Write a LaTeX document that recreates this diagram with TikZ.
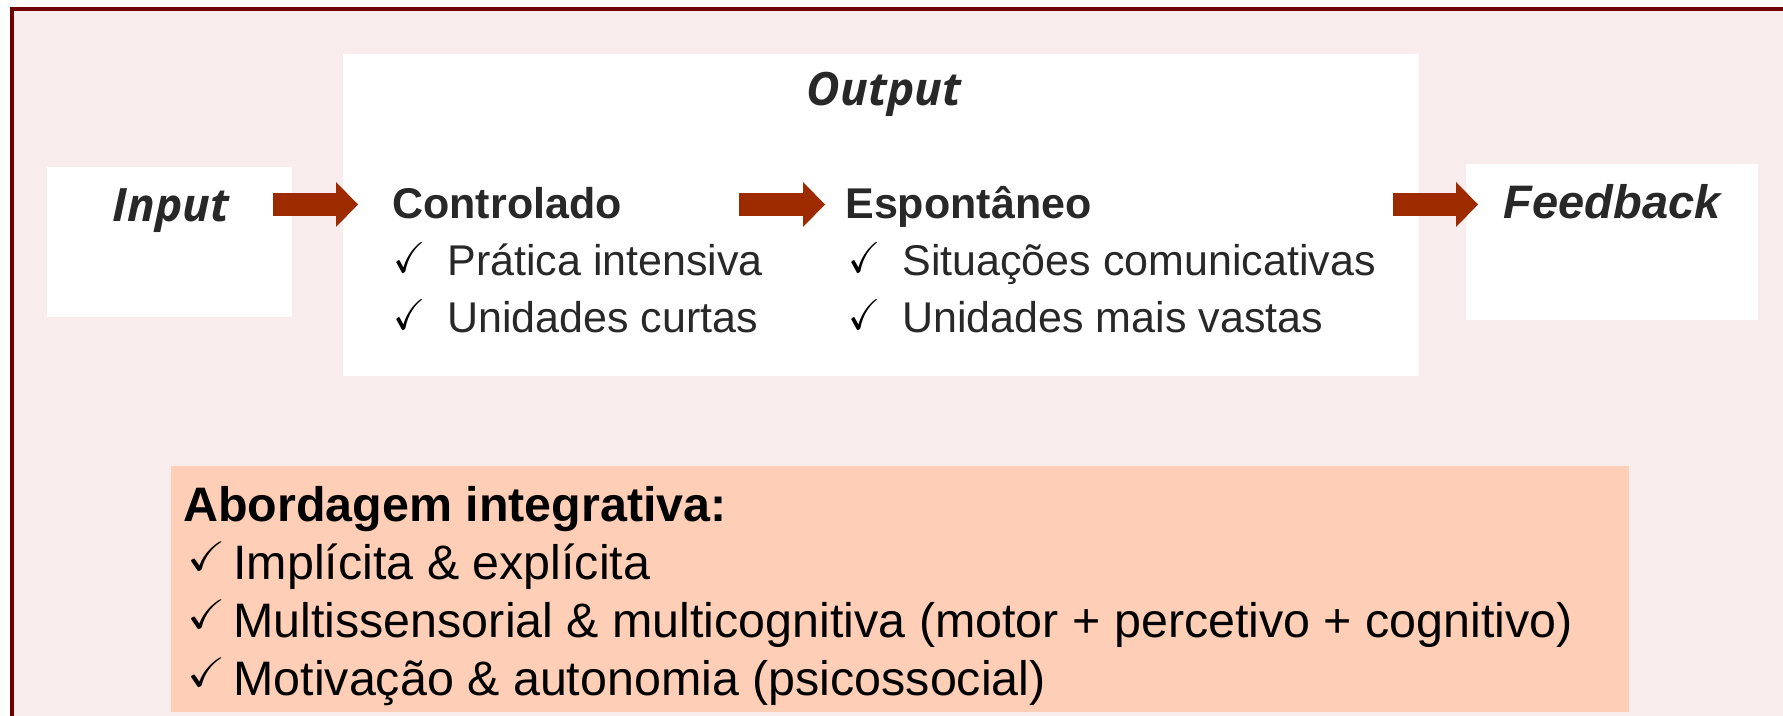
\documentclass[tikz,border=0pt]{standalone}
\usepackage{amssymb}
\usepackage{fontspec}
\setmainfont{Liberation Sans}
\newfontfamily\segoe{Open Sans}
\usetikzlibrary{arrows.meta,fit}
\definecolor{bgpink}{RGB}{248,237,236}
\definecolor{framered}{RGB}{110,0,0}
\definecolor{arrowred}{RGB}{158,42,0}
\definecolor{peach}{RGB}{255,206,182}
\definecolor{darktext}{RGB}{40,40,40}
\newcommand{\chk}{\makebox[27pt][l]{\raisebox{1.5pt}{\color{black}\scalebox{0.9}[1.0]{$\checkmark$}}}}
\newcommand{\chksmall}{\makebox[23pt][l]{\raisebox{4.5pt}{\scalebox{0.95}[0.85]{$\checkmark$}}}}
\tikzset{
whitebox/.style={fill=white,inner sep=0pt},
peachbox/.style={fill=peach,inner sep=0pt},
frame/.style={draw=framered,fill=bgpink,line width=2pt},
heading/.style={inner sep=0pt,text=darktext,font=\segoe\bfseries\itshape\fontsize{23}{23}\selectfont},
stage/.style={inner sep=0pt,text=darktext,font=\bfseries\fontsize{21.5}{26}\selectfont},
item/.style={inner sep=0pt,text=darktext,font=\fontsize{21.5}{26}\selectfont},
blockarrow/.style={arrowred,line width=11.5pt,-{Triangle[length=11pt,width=22.5pt,line width=0pt]}}
}
\begin{document}
\begin{tikzpicture}[x=0.5pt,y=-0.5pt]
\useasboundingbox (0,0) rectangle (1783,716);
\clip (0,0) rectangle (1783,716);
% the frame
\draw[frame] (11.5,9) rectangle (1800,740);
% the boxes
\node[whitebox,fit={(47,167) (292,317)}] (inbox) {};
\node[whitebox,fit={(343,54) (1419,376)}] (outbox) {};
\node[whitebox,fit={(1466,164) (1758,320)}] (fbbox) {};
\node[peachbox,fit={(171,466) (1629,712)}] (intbox) {};
% the texts
\node[heading,anchor=base] (input) at (171,222) {Input};
\node[heading,anchor=base] (output) at (884,106) {Output};
\node[heading,anchor=base,font=\bfseries\itshape\fontsize{23.5}{24}\selectfont] (feedback) at (1612,219) {Feedback};
\node[stage,anchor=base west] (ctrl) at (392,219) {Controlado};
\node[stage,anchor=base west] (esp) at (845,219) {Espontâneo};
\foreach \t [count=\i] in {Prática intensiva,Unidades curtas}
  \node[item,anchor=base west] (ctrl-\i) at (393,219+57*\i) {\chk\t};
\foreach \t [count=\i] in {Situações comunicativas,Unidades mais vastas}
  \node[item,anchor=base west] (esp-\i) at (848,219+57*\i) {\chk\t};
\node[anchor=base west,inner sep=0pt,font=\bfseries\fontsize{24.2}{28}\selectfont] (integ) at (183,521) {Abordagem integrativa:};
\foreach \t [count=\i] in {Implícita \& explícita,Multissensorial \& multicognitiva (motor + percetivo + cognitivo),Motivação \& autonomia (psicossocial)}
  \node[anchor=base west,inner sep=0pt,font=\fontsize{24.2}{28}\selectfont] (integ-\i) at (187,521+58*\i) {\chksmall\t};
% the arrows
\coordinate (s1) at (273,204.5);
\coordinate (e1) at (358,204.5);
\coordinate (s2) at (739,204.5);
\coordinate (e2) at (825,204.5);
\coordinate (s3) at (1393,204.5);
\coordinate (e3) at (1478,204.5);
\foreach \i in {1,2,3}
  \draw[blockarrow] (s\i) -- (e\i);
\end{tikzpicture}
\end{document}
